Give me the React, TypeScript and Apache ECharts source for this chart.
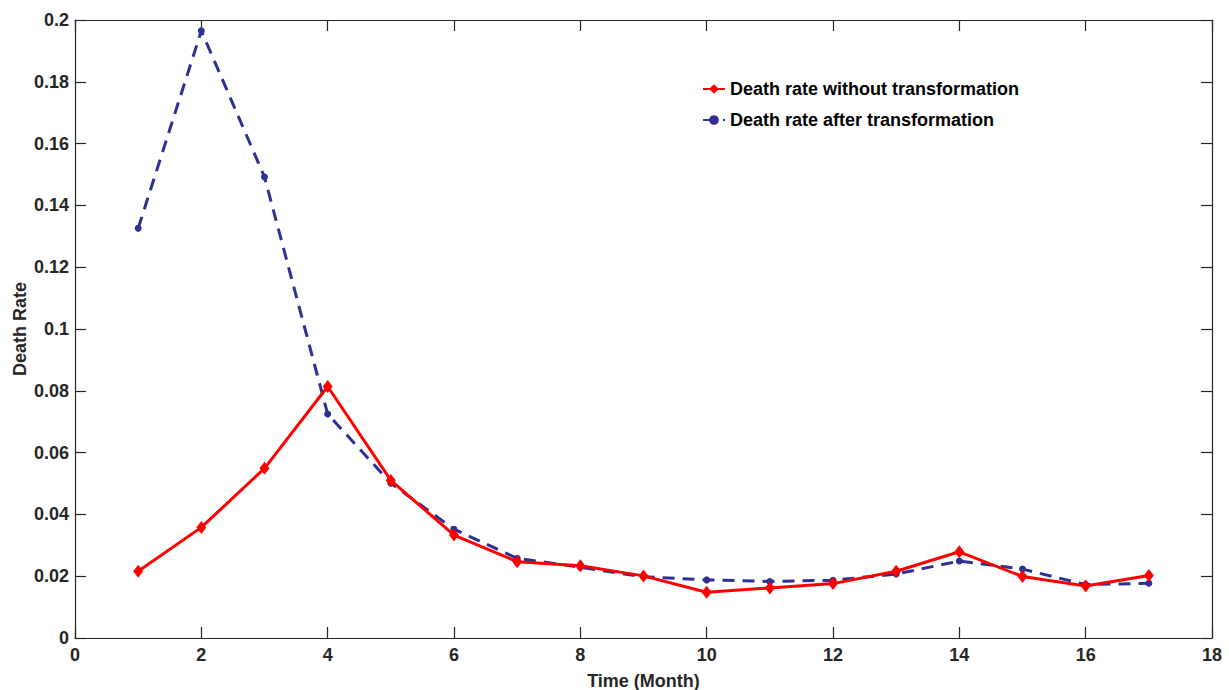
import React, { useEffect, useRef } from "react";
import * as echarts from "echarts";

const months = [1, 2, 3, 4, 5, 6, 7, 8, 9, 10, 11, 12, 13, 14, 15, 16, 17];
const withoutTransformation = [
  0.0216, 0.0358, 0.0549, 0.0814, 0.051, 0.0333, 0.0247, 0.0234, 0.0201, 0.0148,
  0.0162, 0.0176, 0.0216, 0.0279, 0.0199, 0.0168, 0.0202,
];
const afterTransformation = [
  0.1326, 0.1965, 0.1492, 0.0725, 0.0501, 0.0352, 0.0258, 0.0229, 0.0198, 0.0188,
  0.0183, 0.0187, 0.0207, 0.0249, 0.0223, 0.0173, 0.0177,
];
const seriesNames = ["Death rate without transformation", "Death rate after transformation"];

export default function App() {
  const ref = useRef<HTMLDivElement>(null);
  useEffect(() => {
    if (!ref.current) return;
    const chart = echarts.init(ref.current, null, { renderer: "svg" });
    const font = "'Liberation Sans', Arial, sans-serif";
    const axisLine = { show: true, onZero: false, lineStyle: { color: "#262626", width: 1.2 } };
    const tick = { show: true, inside: true, length: 11, lineStyle: { color: "#262626", width: 1.2 } };
    const labelStyle = { color: "#262626", fontFamily: font, fontWeight: "bold" as const, fontSize: 18 };
    chart.setOption({
      animation: false,
      backgroundColor: "#ffffff",
      grid: { left: 75, top: 20, right: 17, bottom: 52, containLabel: false, outerBoundsMode: "none" },
      legend: {
        orient: "vertical",
        left: 697,
        top: 75,
        itemWidth: 22,
        itemHeight: 12,
        itemGap: 13,
        selectedMode: false,
        textStyle: { ...labelStyle, color: "#000" },
        data: seriesNames,
      },
      xAxis: [
        {
          type: "value",
          min: 0,
          max: 18,
          interval: 2,
          name: "Time (Month)",
          nameLocation: "middle",
          nameGap: 34,
          nameMoveOverlap: false,
          nameTextStyle: labelStyle,
          axisLine,
          axisTick: tick,
          axisLabel: { ...labelStyle, margin: 8 },
          splitLine: { show: false },
        },
        {
          type: "value",
          position: "top",
          min: 0,
          max: 18,
          interval: 2,
          axisLine,
          axisTick: tick,
          axisLabel: { show: false },
          splitLine: { show: false },
        },
      ],
      yAxis: [
        {
          type: "value",
          min: 0,
          max: 0.2,
          interval: 0.02,
          name: "Death Rate",
          nameLocation: "middle",
          nameGap: 46,
          nameMoveOverlap: false,
          nameTextStyle: labelStyle,
          axisLine,
          axisTick: tick,
          axisLabel: { ...labelStyle, margin: 6 },
          splitLine: { show: false },
        },
        {
          type: "value",
          position: "right",
          min: 0,
          max: 0.2,
          interval: 0.02,
          axisLine,
          axisTick: tick,
          axisLabel: { show: false },
          splitLine: { show: false },
        },
      ],
      series: [
        {
          name: seriesNames[1],
          type: "line",
          data: months.map((m, i) => [m, afterTransformation[i]]),
          symbol: "circle",
          symbolSize: 7,
          itemStyle: { color: "#2e3192" },
          lineStyle: { color: "#2e3192", width: 3, type: [12, 8] },
          z: 2,
        },
        {
          name: seriesNames[0],
          type: "line",
          data: months.map((m, i) => [m, withoutTransformation[i]]),
          symbol: "diamond",
          symbolSize: [10, 13],
          itemStyle: { color: "#ff0000" },
          lineStyle: { color: "#ff0000", width: 3 },
          z: 3,
        },
      ],
    });
    return () => chart.dispose();
  }, []);
  return <div ref={ref} style={{ position: "fixed", left: 0, top: 0, width: 1229, height: 690 }} />;
}
